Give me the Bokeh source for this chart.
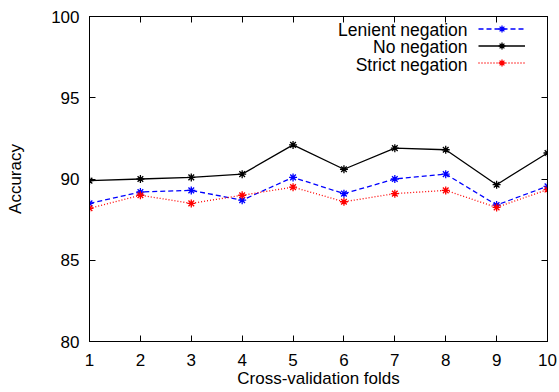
from bokeh.plotting import figure
from bokeh.models import LinearAxis, Range1d, FixedTicker, Legend, LegendItem, Label
from bokeh.embed import file_html
from bokeh.resources import INLINE

folds = [1, 2, 3, 4, 5, 6, 7, 8, 9, 10]
lenient = [88.5, 89.2, 89.3, 88.7, 90.1, 89.1, 90.0, 90.3, 88.4, 89.55]
no_neg = [89.9, 90.0, 90.1, 90.3, 92.1, 90.6, 91.9, 91.8, 89.65, 91.6]
strict = [88.2, 89.0, 88.5, 89.0, 89.5, 88.6, 89.1, 89.3, 88.25, 89.35]
series_names = ["Lenient negation", "No negation", "Strict negation"]
x_ticks = [1, 2, 3, 4, 5, 6, 7, 8, 9, 10]
y_ticks = [80, 85, 90, 95, 100]
x_title = "Cross-validation folds"
y_title = "Accuracy"

FONT = "Liberation Sans"
FS = "17px"
L, H = 89, 325  # frame left border and frame height, for legend text offsets

p = figure(width=559, height=392, x_range=Range1d(1, 10), y_range=Range1d(80, 100),
           output_backend="svg", toolbar_location=None,
           min_border_left=L, min_border_right=12, min_border_top=16, min_border_bottom=51)
p.grid.visible = False
p.outline_line_color = "black"
p.outline_line_width = 1
p.background_fill_color = "white"
p.border_fill_color = "white"

for ax in (p.xaxis[0], p.yaxis[0]):
    ax.major_tick_in = 6
    ax.major_tick_out = 0
    ax.minor_tick_in = 0
    ax.minor_tick_out = 0
    ax.major_label_text_font = FONT
    ax.major_label_text_font_size = FS
    ax.major_label_text_color = "black"
    ax.major_label_text_line_height = 1.0
    ax.axis_label_text_font = FONT
    ax.axis_label_text_font_size = FS
    ax.axis_label_text_font_style = "normal"
    ax.axis_label_text_color = "black"
    ax.axis_label_text_line_height = 1.0
    ax.axis_line_color = "black"
    ax.major_tick_line_color = "black"
    ax.major_label_standoff = 10

p.xaxis[0].ticker = FixedTicker(ticks=x_ticks)
p.yaxis[0].ticker = FixedTicker(ticks=y_ticks)
p.xaxis[0].axis_label = x_title
p.yaxis[0].axis_label = y_title
p.xaxis[0].major_label_standoff = 12
p.xaxis[0].axis_label_standoff = 0
p.yaxis[0].axis_label_standoff = 23

# mirrored tick axes (ticks only, empty labels)
top = LinearAxis(ticker=FixedTicker(ticks=x_ticks),
                 major_label_overrides={t: "" for t in x_ticks})
right = LinearAxis(ticker=FixedTicker(ticks=y_ticks),
                   major_label_overrides={t: "" for t in y_ticks})
for ax in (top, right):
    ax.major_tick_in = 6
    ax.major_tick_out = 0
    ax.minor_tick_in = 0
    ax.minor_tick_out = 0
    ax.major_label_standoff = 0
    ax.axis_line_color = "black"
p.add_layout(top, "above")
p.add_layout(right, "right")

l1 = p.line(folds, lenient, line_color="blue", line_width=1.3, line_dash="5 3")
m1 = p.scatter(folds, lenient, marker="asterisk", size=8, line_color="blue", line_width=1.3)
l2 = p.line(folds, no_neg, line_color="black", line_width=1.3)
m2 = p.scatter(folds, no_neg, marker="asterisk", size=8, line_color="black", line_width=1.3)
l3 = p.line(folds, strict, line_color="red", line_width=1.3, line_dash="1 2")
m3 = p.scatter(folds, strict, marker="asterisk", size=8, line_color="red", line_width=1.3)

legend = Legend(items=[LegendItem(label=" ", renderers=[l1, m1]),
                       LegendItem(label=" ", renderers=[l2, m2]),
                       LegendItem(label=" ", renderers=[l3, m3])],
                location=(389, 270), orientation="vertical",
                glyph_width=47, glyph_height=17, label_height=17, label_width=0,
                label_standoff=0, spacing=0, padding=0, margin=0,
                border_line_color=None, background_fill_alpha=0,
                label_text_font_size="1px")
p.add_layout(legend, "center")

for i, name in enumerate(series_names):
    p.add_layout(Label(x=467 - L, y=H - 13 - 17.5 * i, x_units="screen", y_units="screen",
                       text=name, text_align="right", text_baseline="middle",
                       text_font=FONT, text_font_size="17.5px", text_color="black"))

open("out.html", "w").write(file_html(p, INLINE))
